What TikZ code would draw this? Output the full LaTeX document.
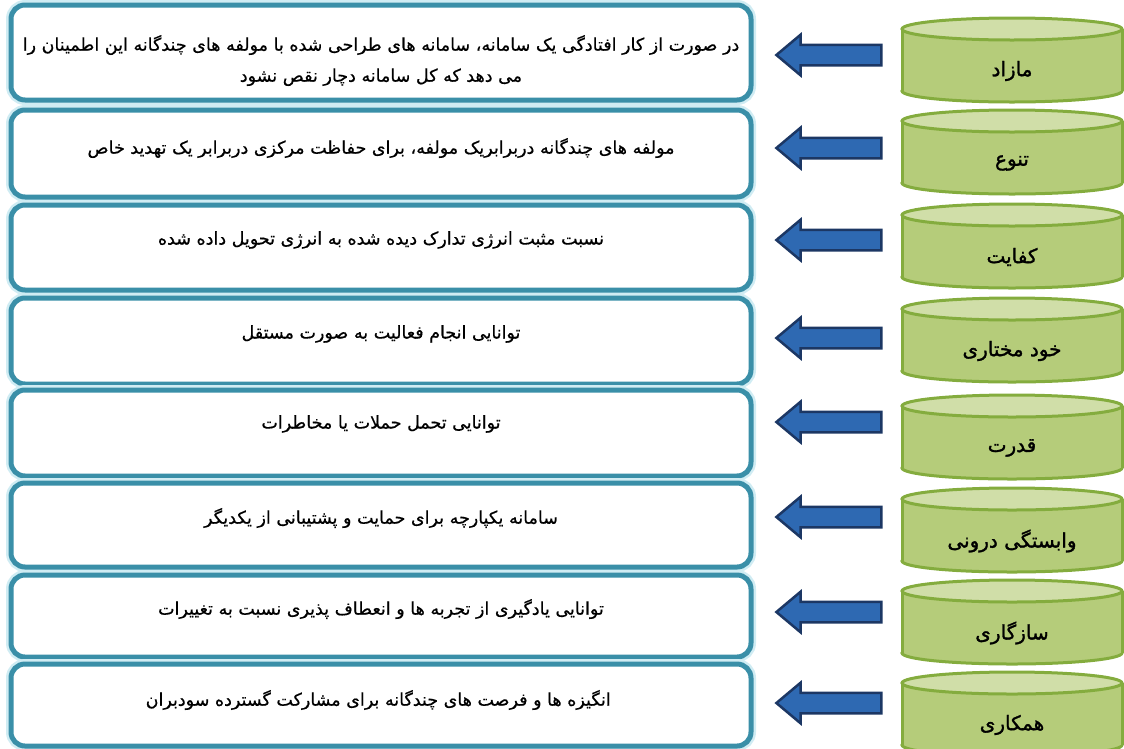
\documentclass[tikz,border=0pt]{standalone}
\usepackage{fontspec}
\usepackage{tikz}
\usetikzlibrary{shapes.arrows}
\newfontfamily\arabicfont[Script=Arabic, FakeBold=0.6]{DejaVu Sans}
\newfontfamily\arabicbold[Script=Arabic, FakeBold=1.4]{DejaVu Sans}
\TeXXeTstate=1
\newcommand{\fatext}[1]{\beginR #1\endR}

\definecolor{boxteal}{RGB}{58,143,168}
\definecolor{boxglow}{RGB}{208,236,243}
\definecolor{cylfill}{RGB}{181,204,122}
\definecolor{cyltop}{RGB}{208,222,168}
\definecolor{cylline}{RGB}{132,172,62}
\definecolor{arrfill}{RGB}{46,105,178}
\definecolor{arrline}{RGB}{28,55,100}

\tikzset{
  descbox/.style={draw=boxteal, line width=5pt, rounded corners=14pt, fill=white,
    preaction={draw=boxglow, line width=10pt}, minimum width=740pt, inner sep=0pt},
  desctext/.style={font=\fontsize{17.5}{31}\selectfont\arabicfont, align=center, inner sep=0pt},
  cyltext/.style={font=\fontsize{20}{24}\selectfont\arabicbold, inner sep=0pt},
  blockarrow/.style={single arrow, draw=arrline, line width=2.5pt, fill=arrfill,
    minimum height=105pt, minimum width=40pt, single arrow head extend=10pt,
    single arrow tip angle=80, single arrow head indent=0pt, rotate=180,
    inner xsep=0pt, inner ysep=9pt}
}

\begin{document}
\begin{tikzpicture}[x=1pt,y=-1pt]
	\useasboundingbox (0,0) rectangle (1124,748);
	\clip (0,0) rectangle (1124,748);
	% rows: box top / box bottom / text y / arrow y / cylinder top / label / text
	\foreach \i/\bt/\bb/\ty/\ay/\ct/\lbl/\txt in {
		1/5/100/60.5/55/18/{مازاد}/{\fatext{در صورت از کار افتادگی یک سامانه، سامانه های طراحی شده با مولفه های چندگانه این اطمینان را}\\\fatext{می دهد که کل سامانه دچار نقص نشود}},
		2/110/197/148/148/110/{تنوع}/{\fatext{مولفه های چندگانه دربرابریک مولفه، برای حفاظت مرکزی دربرابر یک تهدید خاص}},
		3/205/290/240/240/204/{کفایت}/{\fatext{نسبت مثبت انرژی تدارک دیده شده به انرژی تحویل داده شده}},
		4/298/384/334/338/298/{خود مختاری}/{\fatext{توانایی انجام فعالیت به صورت مستقل}},
		5/390/476/424/422/395/{قدرت}/{\fatext{توانایی تحمل حملات یا مخاطرات}},
		6/483/567/518/517/488/{وابستگی درونی}/{\fatext{سامانه یکپارچه برای حمایت و پشتیبانی از یکدیگر}},
		7/575/657/609/612/580/{سازگاری}/{\fatext{توانایی یادگیری از تجربه ها و انعطاف پذیری نسبت به تغییرات}},
		8/664/746/700/703/672/{همکاری}/{\fatext{انگیزه ها و فرصت های چندگانه برای مشارکت گسترده سودبران}}
	}{
		% description box
		\node[descbox, minimum height={(\bb-\bt)*1pt}] (desc\i) at (381,{(\bt+\bb)/2}) {};
		\node[desctext] (txt\i) at (381,\ty) {\txt};
		% cylinder
		\filldraw[fill=cylfill, draw=cylline, line width=3pt] (1012,{\ct+73}) ellipse [x radius=110, y radius=11];
		\fill[cylfill] (902,{\ct+11}) rectangle (1122,{\ct+73});
		\draw[cylline, line width=3pt] (902,{\ct+11}) -- (902,{\ct+73}) (1122,{\ct+11}) -- (1122,{\ct+73});
		\filldraw[fill=cyltop, draw=cylline, line width=3pt] (1012,{\ct+11}) ellipse [x radius=110, y radius=11];
		\node[cyltext] (cyl\i) at (1012,{\ct+53}) {\fatext{\lbl}};
		% block arrow
		\node[blockarrow] (arr\i) at (835,\ay) {};
	}
\end{tikzpicture}
\end{document}
